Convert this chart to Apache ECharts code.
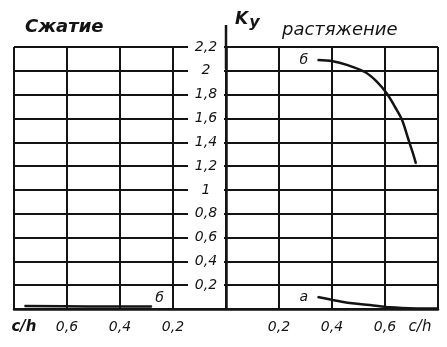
<!DOCTYPE html>
<html><head><meta charset="utf-8">
<script src="https://cdn.jsdelivr.net/npm/echarts@6/dist/echarts.min.js"></script>
<style>html,body{margin:0;padding:0;background:#fff}#c{width:447px;height:347px}</style>
</head><body><div id="c"></div>
<script>
// ---- data ----
const titleCompression = 'Сжатие';
const titleTension = 'растяжение';
const axisNameK = 'K';
const axisNameSub = 'y';
const curveNameB = 'б';
const curveNameA = 'а';

// x tick labels for values -0.8 .. 0.8 step 0.2 (left = compression, right = tension)
const xTickLabels = ['c/h', '0,6', '0,4', '0,2', '', '0,2', '0,4', '0,6', 'c/h'];
// y tick labels for 0 .. 2.2 step 0.2
const yTickLabels = ['', '0,2', '0,4', '0,6', '0,8', '1', '1,2', '1,4', '1,6', '1,8', '2', '2,2'];

// tension, curve б
const tensionB_ch = [0.346, 0.403, 0.456, 0.524, 0.569, 0.607, 0.637, 0.664, 0.686, 0.705, 0.717];
const tensionB_ky = [2.09, 2.08, 2.05, 1.99, 1.91, 1.81, 1.70, 1.59, 1.44, 1.31, 1.22];
// tension, curve а
const tensionA_ch = [0.346, 0.403, 0.467, 0.543, 0.618, 0.72, 0.797];
const tensionA_ky = [0.10, 0.076, 0.05, 0.034, 0.014, 0.005, 0.004];
// compression, curve б
const compressionB_ch = [0.76, 0.52, 0.28];
const compressionB_ky = [0.025, 0.022, 0.02];

// ---- build ----
const ink = '#141414';
const fontFam = '"DejaVu Sans", sans-serif';

function pairs(xs, ys, sign) { return xs.map((x, i) => [sign * x, ys[i]]); }

const dataTB = pairs(tensionB_ch, tensionB_ky, 1).map((p, i) => i === 0 ? {
  value: p, label: { show: true, formatter: curveNameB, position: 'left', distance: 9 } } : p);
const dataTA = pairs(tensionA_ch, tensionA_ky, 1).map((p, i) => i === 0 ? {
  value: p, label: { show: true, formatter: curveNameA, position: 'left', distance: 9 } } : p);
const cb = pairs(compressionB_ch, compressionB_ky, -1);
const dataCB = cb.map((p, i) => i === cb.length - 1 ? {
  value: p, label: { show: true, formatter: curveNameB, position: 'right', distance: 3, offset: [0, -8] } } : p);

const curveLabel = { color: ink, fontSize: 14, fontStyle: 'italic', fontFamily: fontFam };
function lineSeries(data) {
  return {
    type: 'line', data: data, smooth: 0.35,
    symbol: 'circle', symbolSize: 1, showSymbol: true,
    itemStyle: { color: ink },
    lineStyle: { color: ink, width: 2.5 },
    label: Object.assign({ show: false }, curveLabel),
    z: 3
  };
}

const chart = echarts.init(document.getElementById('c'), null, { renderer: 'canvas' });
chart.setOption({
  animation: false,
  backgroundColor: '#fff',
  title: [
    { text: titleCompression, left: 25, top: 18, padding: 0,
      textStyle: { color: ink, fontSize: 18, fontStyle: 'italic', fontWeight: 'bold', fontFamily: fontFam } },
    { text: titleTension, left: 282, top: 21, padding: 0,
      textStyle: { color: ink, fontSize: 18, fontStyle: 'italic', fontWeight: 'normal', fontFamily: fontFam } },
    { text: '{k|' + axisNameK + '}{s|' + axisNameSub + '}', left: 235, top: 8, padding: 0,
      textStyle: { rich: {
        k: { color: ink, fontSize: 17, fontStyle: 'italic', fontFamily: fontFam },
        s: { color: ink, fontSize: 16, fontStyle: 'italic', fontFamily: fontFam, padding: [7, 0, 0, 1] } } } }
  ],
  grid: { left: 14, right: 9, top: 47, bottom: 38, containLabel: false, outerBoundsMode: 'none' },
  xAxis: {
    type: 'value', min: -0.8, max: 0.8, interval: 0.2,
    axisLine: { show: true, onZero: false, lineStyle: { color: ink, width: 2.5 } },
    axisTick: { show: false },
    splitLine: { show: true, lineStyle: { color: ink, width: 2 } },
    axisLabel: {
      show: true, margin: 11, color: ink, fontSize: 14, fontStyle: 'italic', fontFamily: fontFam,
      showMinLabel: true, showMaxLabel: true,
      formatter: function (v) {
        const i = Math.round((v + 0.8) / 0.2);
        const t = xTickLabels[i] || '';
        if (i === 0) return '{l|' + t + '}';
        if (i === xTickLabels.length - 1) return '{r|' + t + '}';
        return t;
      },
      rich: {
        l: { color: ink, fontSize: 15, fontStyle: 'italic', fontWeight: 'bold', fontFamily: fontFam, padding: [0, 0, 0, 20] },
        r: { color: ink, fontSize: 15, fontStyle: 'italic', fontFamily: fontFam, padding: [0, 36, 0, 0] }
      }
    }
  },
  yAxis: {
    type: 'value', min: 0, max: 2.2, interval: 0.2, z: 5,
    position: 'left', offset: -212,
    axisLine: { show: true, onZero: false, symbol: ['none', 'rect'], symbolSize: [2.5, 44],
      lineStyle: { color: ink, width: 2.5 } },
    axisTick: { show: false },
    splitLine: { show: true, lineStyle: { color: ink, width: 2 } },
    axisLabel: {
      show: true, margin: 20, align: 'center', width: 36, backgroundColor: '#fff',
      color: ink, fontSize: 14, fontStyle: 'italic', fontFamily: fontFam,
      showMinLabel: false,
      formatter: function (v) { return yTickLabels[Math.round(v / 0.2)] || ''; }
    }
  },
  series: [lineSeries(dataTB), lineSeries(dataTA), lineSeries(dataCB)]
});
</script></body></html>
